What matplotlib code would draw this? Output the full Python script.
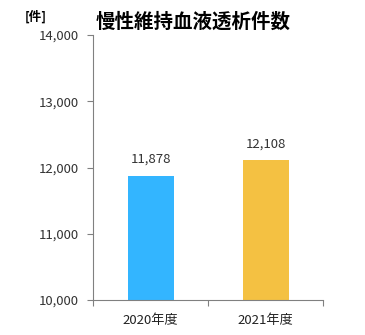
import matplotlib.pyplot as plt

plt.rcParams['font.family'] = ['Noto Sans CJK JP', 'DejaVu Sans']

# 慢性維持血液透析件数
years = ['2020年度', '2021年度']
counts = [11878, 12108]
colors = ['#33B5FF', '#F4C142']

fig = plt.figure(figsize=(3.65, 3.35), dpi=100)
ax = fig.add_axes([0.255, 0.1045, 0.63, 0.791])

x = list(range(len(years)))
ax.bar(x, counts, width=0.4, color=colors)
for xi, v in zip(x, counts):
    ax.text(xi, v + 150, f'{v:,}', ha='center', va='bottom',
            fontsize=9.5, color='#333333')

ax.set_xlim(-0.5, 1.5)
ax.set_ylim(10000, 14000)
ax.set_yticks([10000, 11000, 12000, 13000, 14000])
ax.set_yticklabels([f'{t:,}' for t in ax.get_yticks().astype(int)])

# category boundaries get tick marks, labels sit between them
ax.set_xticks([-0.5, 0.5, 1.5])
ax.set_xticklabels([])
ax.set_xticks(x, minor=True)
ax.set_xticklabels(years, minor=True)
ax.tick_params(axis='x', which='minor', length=0, pad=10, labelsize=9.5,
               labelcolor='#222222')
ax.tick_params(axis='x', which='major', length=4, color='#808080')
ax.tick_params(axis='y', length=4, color='#808080', labelsize=9.5,
               labelcolor='#333333', pad=6)

for side in ['top', 'right']:
    ax.spines[side].set_visible(False)
for side in ['left', 'bottom']:
    ax.spines[side].set_color('#808080')

fig.text(0.53, 0.935, '慢性維持血液透析件数', ha='center', va='center',
         fontsize=14, fontweight='bold')
fig.text(0.098, 0.948, '[件]', ha='center', va='center',
         fontsize=9, fontweight='bold')

fig.savefig('out.png')
